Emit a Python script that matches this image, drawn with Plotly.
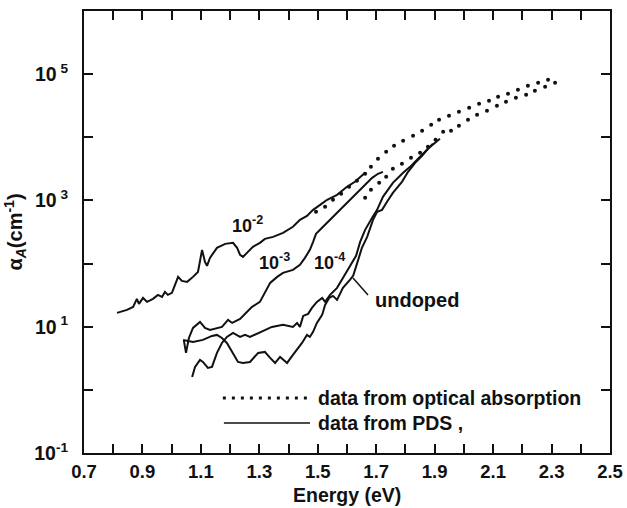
import numpy as np
import plotly.graph_objects as go

# ---- data (energy in eV, log10 of absorption coefficient in cm^-1) ----
E_1e2 = [0.813,0.847,0.868,0.881,0.888,0.902,0.916,0.936,0.953,0.967,0.977,0.987,1.001,1.022,1.035,
         1.053,1.073,1.090,1.104,1.114,1.121,1.131,1.155,1.183,1.210,1.224,1.234,1.244,1.261,1.278,
         1.302,1.319,1.347,1.381,1.415,1.439,1.463,1.484,1.508,1.532,1.566,1.600,1.627,1.645,1.662]
logA_1e2 = [1.219,1.266,1.314,1.441,1.361,1.456,1.393,1.441,1.504,1.472,1.551,1.504,1.536,1.789,1.726,
            1.710,1.789,1.868,2.217,2.027,1.964,2.090,2.249,2.312,2.328,2.249,2.138,2.106,2.185,2.265,
            2.328,2.391,2.423,2.487,2.582,2.693,2.756,2.851,2.930,3.010,3.089,3.216,3.295,3.374,3.437]

E_1e3 = [1.042,1.049,1.059,1.073,1.097,1.114,1.131,1.155,1.172,1.193,1.207,1.234,1.258,1.275,1.302,
         1.319,1.337,1.361,1.381,1.415,1.439,1.456,1.473,1.484,1.494,1.518,1.552,1.586,1.621,1.655,
         1.686,1.706,1.723]
logA_1e3 = [0.775,0.585,0.822,0.981,1.076,0.981,0.949,0.981,0.997,1.108,1.060,1.124,1.235,1.314,1.393,
            1.551,1.694,1.789,1.853,1.900,1.979,2.090,2.217,2.344,2.471,2.582,2.740,2.899,3.057,3.216,
            3.358,3.422,3.453]

E_1e4 = [1.070,1.080,1.097,1.107,1.124,1.138,1.155,1.172,1.189,1.210,1.234,1.251,1.268,1.296,1.319,
         1.343,1.381,1.415,1.429,1.439,1.450,1.467,1.480,1.497,1.515,1.525,1.542,1.566,1.586,1.610,
         1.631,1.645,1.662,1.686,1.703,1.723,1.757,1.792,1.816,1.850,1.877,1.894]
logA_1e4 = [0.204,0.363,0.474,0.442,0.347,0.363,0.585,0.743,0.838,0.902,0.838,0.870,0.838,0.902,0.949,
            0.997,1.029,0.997,1.060,0.997,1.171,1.203,1.298,1.393,1.456,1.393,1.504,1.615,1.773,1.964,
            2.122,2.344,2.534,2.724,2.851,3.057,3.279,3.437,3.532,3.691,3.818,3.897]

E_undoped = [1.039,1.073,1.107,1.138,1.155,1.172,1.189,1.210,1.227,1.244,1.268,1.296,1.319,1.337,1.354,
             1.371,1.395,1.415,1.446,1.463,1.473,1.484,1.497,1.515,1.525,1.539,1.552,1.566,1.586,1.610,
             1.621,1.634,1.651,1.669,1.689,1.703,1.720,1.737,1.757,1.788,1.809,1.833,1.857,1.877,1.901,
             1.918]
logA_undoped = [0.791,0.759,0.791,0.854,0.870,0.822,0.743,0.585,0.442,0.426,0.442,0.585,0.601,0.506,0.426,
                0.521,0.426,0.553,0.743,0.870,0.838,0.918,1.060,1.187,1.345,1.456,1.488,1.425,1.615,1.742,
                1.805,1.995,2.249,2.423,2.693,2.819,2.851,2.978,3.120,3.295,3.453,3.596,3.707,3.818,3.913,
                3.976]

# optical absorption data (dotted)
E_opt_upper = [1.494,1.525,1.552,1.580,1.607,1.634,1.662,1.682,1.706,1.734,1.761,1.792,1.826,1.857,1.888,
               1.915,1.949,1.983,2.018,2.052,2.086,2.117,2.151,2.185,2.219,2.254,2.288]
logA_opt_upper = [2.819,2.899,3.009,3.105,3.216,3.311,3.422,3.532,3.659,3.770,3.865,3.945,4.024,4.103,4.198,
                  4.277,4.341,4.404,4.468,4.531,4.578,4.642,4.689,4.753,4.816,4.864,4.911]
E_opt_lower = [1.662,1.682,1.710,1.734,1.757,1.788,1.819,1.850,1.877,1.903,1.929,1.956,1.983,2.014,2.045,
               2.079,2.113,2.144,2.178,2.213,2.243,2.278,2.312]
logA_opt_lower = [3.041,3.168,3.279,3.374,3.501,3.580,3.675,3.754,3.849,3.960,4.087,4.103,4.182,4.277,4.357,
                  4.420,4.499,4.563,4.626,4.674,4.737,4.800,4.864]

x_tickvals = [0.7, 0.9, 1.1, 1.3, 1.5, 1.7, 1.9, 2.1, 2.3, 2.5]
x_ticktext = ["0.7", "0.9", "1.1", "1.3", "1.5", "1.7", "1.9", "2.1", "2.3", "2.5"]
y_tickvals = [0.1, 10, 1000, 100000]
y_ticktext = ["10<sup>-1</sup>", "10<sup> 1</sup>", "10<sup> 3</sup>", "10<sup> 5</sup>"]

FONT = "Liberation Sans, Arial, Helvetica, sans-serif"
BLACK = "#111111"

fig = go.Figure()

def pow10(v):
    return np.power(10.0, np.array(v))

for ex, ly in [(E_1e2, logA_1e2), (E_1e3, logA_1e3), (E_1e4, logA_1e4), (E_undoped, logA_undoped)]:
    fig.add_trace(go.Scatter(x=ex, y=pow10(ly), mode="lines",
                             line=dict(color=BLACK, width=2), showlegend=False, hoverinfo="skip"))

for ex, ly in [(E_opt_upper, logA_opt_upper), (E_opt_lower, logA_opt_lower)]:
    fig.add_trace(go.Scatter(x=ex, y=pow10(ly), mode="markers",
                             marker=dict(color=BLACK, size=4), showlegend=False, hoverinfo="skip"))

def b(t):
    return "<b>" + t + "</b>"

annotations = [
    dict(x=0.310, y=0.518, text="10<sup>-2</sup>", size=18),
    dict(x=0.363, y=0.434, text="10<sup>-3</sup>", size=18),
    dict(x=0.466, y=0.434, text="10<sup>-4</sup>", size=18),
    dict(x=0.633, y=0.346, text="undoped", size=20),
]
ann = []
for a in annotations:
    ann.append(dict(xref="paper", yref="paper", x=a["x"], y=a["y"], text=b(a["text"]),
                    showarrow=False, font=dict(family=FONT, size=a["size"], color=BLACK),
                    xanchor="center", yanchor="middle"))
ann.append(dict(xref="paper", yref="paper", x=0.441, y=0.1244, text=b("data from optical absorption"),
                showarrow=False, font=dict(family=FONT, size=19.5, color=BLACK), xanchor="left", yanchor="middle"))
ann.append(dict(xref="paper", yref="paper", x=0.441, y=0.0679, text=b("data from PDS ,"),
                showarrow=False, font=dict(family=FONT, size=19.5, color=BLACK), xanchor="left", yanchor="middle"))
# x-axis title
ann.append(dict(xref="paper", yref="paper", x=0.5, y=-0.095, text=b("Energy (eV)"),
                showarrow=False, font=dict(family=FONT, size=19.5, color=BLACK), xanchor="center", yanchor="middle"))

shapes = [
    dict(type="line", xref="paper", yref="paper", x0=0.5114, y0=0.3959, x1=0.540, y1=0.3575,
         line=dict(color=BLACK, width=1.5)),
    dict(type="line", xref="paper", yref="paper", x0=0.264, y0=0.1244, x1=0.4297, y1=0.1244,
         line=dict(color=BLACK, width=3, dash="3px,6px")),
    dict(type="line", xref="paper", yref="paper", x0=0.266, y0=0.0679, x1=0.4297, y1=0.0679,
         line=dict(color=BLACK, width=1.5)),
]

fig.update_layout(
    width=627, height=508,
    margin=dict(l=84, r=17, t=11, b=55),
    paper_bgcolor="white", plot_bgcolor="white",
    font=dict(family=FONT, color=BLACK),
    annotations=ann, shapes=shapes,
    showlegend=False,
)

fig.update_xaxes(
    range=[0.7, 2.5], tickmode="array", tickvals=x_tickvals, ticktext=[b(t) for t in x_ticktext],
    ticks="inside", ticklen=9, tickwidth=1.5, tickcolor=BLACK,
    minor=dict(ticks="inside", dtick=0.1, tick0=0.7, ticklen=9, tickwidth=1.5, tickcolor=BLACK),
    showline=True, linecolor=BLACK, linewidth=2, mirror="ticks",
    showgrid=False, zeroline=False, automargin=False,
    tickfont=dict(family=FONT, size=18.5, color=BLACK),
    ticklabelstandoff=1,
)
fig.update_yaxes(
    type="log", range=[-1, 6], tickmode="array", tickvals=y_tickvals, ticktext=[b(t) for t in y_ticktext],
    ticks="inside", ticklen=9, tickwidth=1.5, tickcolor=BLACK,
    minor=dict(ticks="inside", tickvals=[1, 100, 10000], ticklen=9, tickwidth=1.5, tickcolor=BLACK),
    showline=True, linecolor=BLACK, linewidth=2, mirror="ticks",
    showgrid=False, zeroline=False, automargin=False,
    tickfont=dict(family=FONT, size=19.5, color=BLACK),
    ticklabelstandoff=10,
    title=dict(text=b("α<sub><i>A</i></sub>(cm<sup>-1</sup>)"), font=dict(family=FONT, size=20, color=BLACK), standoff=6),
)

fig.write_html("out.html")
